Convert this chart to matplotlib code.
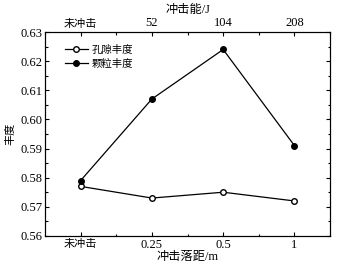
import matplotlib
matplotlib.use("Agg")
import matplotlib.pyplot as plt
from matplotlib.ticker import MultipleLocator

plt.rcParams['font.family'] = ['Liberation Serif', 'Noto Sans CJK SC']
plt.rcParams['axes.unicode_minus'] = False

bottom_labels = ['未冲击', '0.25', '0.5', '1']
top_labels = ['未冲击', '52', '104', '208']
pore = [0.577, 0.573, 0.575, 0.572]
particle = [0.579, 0.607, 0.624, 0.591]

fs = 8
fsl = 8.8
fsn = 9
fig = plt.figure(figsize=(3.46, 2.69), dpi=100)
ax = fig.add_axes([0.130, 0.123, 0.824, 0.758])
x = list(range(len(bottom_labels)))
ax.plot(x, pore, '-o', color='black', mfc='white', mec='black', ms=4, lw=0.9, label='孔隙丰度')
ax.plot(x, particle, '-o', color='black', mfc='black', mec='black', ms=4, lw=0.9, label='颗粒丰度')
ax.set_xlim(-0.5, 3.5)
ax.set_ylim(0.56, 0.63)
ax.set_xticks(x)
ax.set_xticklabels(bottom_labels)
for t in ax.get_xticklabels():
    t.set_fontsize(fs if t.get_text() == '未冲击' else fsn)
ax.xaxis.set_minor_locator(MultipleLocator(0.5))
ax.yaxis.set_major_locator(MultipleLocator(0.01))
ax.yaxis.set_minor_locator(MultipleLocator(0.005))
ax.set_yticklabels([f'{v:.2f}' for v in ax.get_yticks()], fontsize=fsn)
ax.tick_params(which='both', direction='in', top=False, right=True, width=0.8)
ax.tick_params(which='major', length=3, pad=2)
ax.tick_params(which='minor', length=1.8)
ax.set_xlabel('冲击落距/m', fontsize=fsl, labelpad=0)
ax.set_ylabel('丰度', fontsize=fs, labelpad=3)
for s in ax.spines.values():
    s.set_linewidth(0.8)

ax2 = ax.twiny()
ax2.set_xlim(ax.get_xlim())
ax2.set_xticks(x)
ax2.set_xticklabels(top_labels)
for t in ax2.get_xticklabels():
    t.set_fontsize(fs if t.get_text() == '未冲击' else fsn)
ax2.xaxis.set_minor_locator(MultipleLocator(0.5))
ax2.tick_params(which='both', direction='in', width=0.8)
ax2.tick_params(which='major', length=3, pad=2)
ax2.tick_params(which='minor', length=1.8)
ax2.set_xlabel('冲击能/J', fontsize=fsl, labelpad=3)

ax.legend(loc='upper left', frameon=False, fontsize=7.5, handlelength=2.2,
          bbox_to_anchor=(0.055, 0.96), borderaxespad=0.0, labelspacing=0.4, handletextpad=0.4)

fig.savefig('out.png', dpi=100)
